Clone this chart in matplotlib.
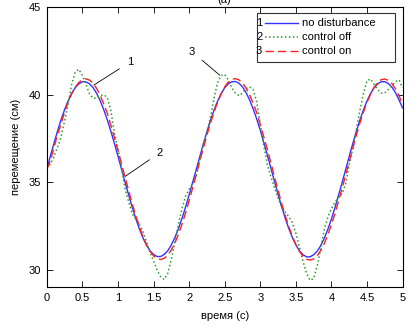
import numpy as np
import matplotlib
matplotlib.use("Agg")
import matplotlib.pyplot as plt

plt.rcParams['font.family'] = ['Liberation Sans', 'DejaVu Sans']
plt.rcParams['font.size'] = 8

# time grid (s)
t = np.arange(0, 5.0001, 0.05)

# 1 - no disturbance
blue = [35.75, 36.50, 37.22, 37.92, 38.57, 39.15, 39.66, 40.08, 40.41, 40.62, 40.74,
        40.74, 40.62, 40.41, 40.08, 39.66, 39.15, 38.57, 37.92, 37.22, 36.50, 35.75,
        35.00, 34.28, 33.58, 32.93, 32.35, 31.84, 31.42, 31.09, 30.88, 30.76,
        30.76, 30.88, 31.09, 31.42, 31.84, 32.35, 32.93, 33.58, 34.28, 35.00,
        35.72, 36.46, 37.18, 37.88, 38.53, 39.12, 39.63, 40.06, 40.40, 40.62, 40.74,
        40.76, 40.66, 40.45, 40.13, 39.71, 39.20, 38.62, 37.98, 37.28, 36.56, 35.80,
        35.05, 34.32, 33.62, 32.96, 32.37, 31.86, 31.43, 31.09, 30.87, 30.74,
        30.74, 30.86, 31.06, 31.38, 31.80, 32.31, 32.90, 33.55, 34.25, 34.98,
        35.72, 36.47, 37.20, 37.90, 38.55, 39.13, 39.64, 40.06, 40.40, 40.62, 40.74,
        40.75, 40.64, 40.44, 40.12, 39.71, 39.25]

# 2 - control off
green = [35.80, 36.05, 36.45, 37.00, 37.60, 38.50, 39.50, 40.60, 41.30, 41.45,
         41.10, 40.60, 40.05, 39.80, 39.80, 39.95, 40.00, 39.85, 39.10, 37.80,
         36.90, 35.90, 34.60, 33.90, 33.20, 32.90, 32.60, 32.20, 31.60, 31.00,
         30.50, 30.00, 29.60, 29.45, 29.80, 30.60, 31.60, 32.60, 33.50, 34.20,
         34.60, 34.90, 35.40, 36.25, 37.20, 37.90, 38.70, 39.80, 40.70, 41.10,
         41.15, 40.85, 40.40, 40.10, 39.95, 40.10, 40.35, 40.45, 40.30, 39.60,
         38.30, 37.10, 36.00, 35.30, 34.70, 34.10, 33.60, 33.30, 33.05, 32.70,
         32.10, 31.30, 30.50, 29.80, 29.40, 29.50, 30.20, 31.20, 32.30, 33.00,
         33.50, 33.85, 34.15, 34.35, 34.90, 36.00, 36.90, 38.00, 39.10, 40.07,
         40.80, 40.90, 40.60, 40.30, 40.10, 40.10, 40.30, 40.50, 40.75, 40.85,
         40.40]

# 3 - control on
red = [35.75, 36.22, 36.97, 37.72, 38.32, 39.03, 39.59, 40.06, 40.44, 40.70, 40.87,
       40.91, 40.84, 40.66, 40.36, 39.97, 39.47, 38.95, 38.26, 37.55, 36.82, 36.05,
       35.28, 34.53, 33.78, 33.10, 32.47, 31.91, 31.44, 31.06, 30.80, 30.63,
       30.59, 30.66, 30.84, 31.14, 31.53, 32.03, 32.60, 33.24, 33.95, 34.68,
       35.42, 36.20, 36.95, 37.68, 38.38, 39.00, 39.57, 40.05, 40.45, 40.72, 40.88,
       40.92, 40.85, 40.68, 40.38, 40.00, 39.52, 38.98, 38.30, 37.60, 36.88, 36.10,
       35.32, 34.56, 33.80, 33.12, 32.48, 31.92, 31.45, 31.06, 30.78, 30.60,
       30.56, 30.62, 30.80, 31.10, 31.50, 32.00, 32.57, 33.21, 33.92, 34.65,
       35.40, 36.18, 36.93, 37.68, 38.38, 39.00, 39.56, 40.03, 40.42, 40.70, 40.86,
       40.90, 40.82, 40.64, 40.34, 39.95, 39.45]

labels = ['no disturbance', 'control off', 'control on']

fig = plt.figure(figsize=(4.18, 3.28), dpi=100)
ax = fig.add_axes([0.112, 0.124, 0.851, 0.854])

ax.plot(t, blue, color='#3333ff', lw=1.0)
ax.plot(t, green, color='#2e9a2e', lw=1.1, linestyle=(0, (1, 1.6)))
ax.plot(t, red, color='#ff2020', lw=1.0, linestyle=(0, (6, 3)))

ax.set_xlim(0, 5)
ax.set_ylim(29, 45)
ax.set_xticks(np.arange(0, 5.01, 0.5))
ax.set_xticklabels(['0', '0.5', '1', '1.5', '2', '2.5', '3', '3.5', '4', '4.5', '5'])
ax.set_yticks([30, 35, 40, 45])
ax.tick_params(direction='in', top=True, right=True, length=4, width=0.6, pad=4)
for s in ax.spines.values():
    s.set_linewidth(0.8)

ax.set_xlabel('время (с)', labelpad=6)
ax.set_ylabel('перемещение (см)', labelpad=6)

# numbered callouts
ax.annotate('1', xy=(0.66, 40.55), xytext=(1.17, 41.87), fontsize=8,
            ha='center', va='center',
            arrowprops=dict(arrowstyle='-', color='black', lw=0.6, shrinkA=4, shrinkB=0))
ax.annotate('2', xy=(1.10, 35.33), xytext=(1.59, 36.70), fontsize=8,
            ha='center', va='center',
            arrowprops=dict(arrowstyle='-', color='black', lw=0.6, shrinkA=4, shrinkB=0))
ax.annotate('3', xy=(2.43, 41.12), xytext=(2.04, 42.46), fontsize=8,
            ha='center', va='center',
            arrowprops=dict(arrowstyle='-', color='black', lw=0.6, shrinkA=4, shrinkB=0))

# legend drawn in axes fraction, MATLAB style with numbers
box = plt.Rectangle((0.590, 0.806), 0.388, 0.175, transform=ax.transAxes,
                    facecolor='white', edgecolor='#333333', lw=0.8, zorder=5)
ax.add_patch(box)
styles = [dict(color='#3333ff', lw=1.0, linestyle='-'),
          dict(color='#2e9a2e', lw=1.1, linestyle=(0, (1, 1.6))),
          dict(color='#ff2020', lw=1.0, linestyle=(0, (6, 3)))]
rows = [0.943, 0.895, 0.844]
for i, (lab, st, yy) in enumerate(zip(labels, styles, rows)):
    ax.text(0.597, yy, str(i + 1), transform=ax.transAxes, ha='center', va='center',
            fontsize=8, zorder=6)
    ax.plot([0.612, 0.706], [yy, yy], transform=ax.transAxes, zorder=6, **st)
    ax.text(0.716, yy, lab, transform=ax.transAxes, ha='left', va='center',
            fontsize=8, zorder=6)

fig.text(0.535, 1.0, '(а)', ha='center', va='center', fontsize=8)

fig.savefig('out.png', dpi=100)
